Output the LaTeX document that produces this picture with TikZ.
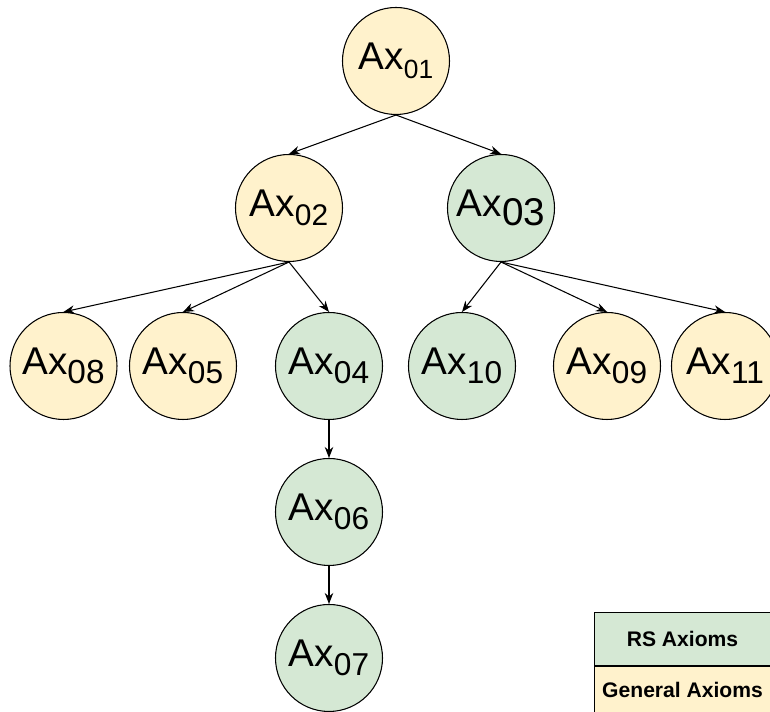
\documentclass[tikz,border=0pt]{standalone}
\usepackage{fontspec}
\setmainfont{Liberation Sans}
\usepackage{xcolor}
\usetikzlibrary{arrows.meta}

\definecolor{genfill}{HTML}{FFF2CC}
\definecolor{rsfill}{HTML}{D5E8D4}
\newcommand{\axfont}{\fontsize{22}{26}\selectfont}
\newcommand{\axsub}[2][18]{\raisebox{-5pt}{\fontsize{#1}{#1}\selectfont #2}}
\newcommand{\legfont}{\fontsize{12}{14}\selectfont\bfseries}

\begin{document}
\begin{tikzpicture}[x=1cm, y=1cm,
  ax/.style={circle, draw, line width=0.6pt, minimum size=2.14cm, inner sep=0pt, font=\axfont},
  gen/.style={ax, fill=genfill},
  rs/.style={ax, fill=rsfill},
  ar/.style={-{Stealth[length=2.2mm, width=1.7mm]}, line width=0.6pt},
  leg/.style={draw, line width=0.6pt, minimum width=3.52cm, inner sep=0pt, font=\legfont}
]
\useasboundingbox (0,0) rectangle (15.4,14.24);

% --- axiom tree -----------------------------------------------------------
\node[gen] (a01) at (7.92,13.02) {Ax\axsub[15]{01}};
\node[gen] (a02) at (5.78,10.08) {Ax\axsub[17]{02}};
\node[rs]  (a03) at (10.02,10.08) {Ax\axsub[22]{03}};
\node[gen] (a08) at (1.27,6.92)  {Ax\axsub[19]{08}};
\node[gen] (a05) at (3.66,6.92)  {Ax\axsub{05}};
\node[rs]  (a04) at (6.58,6.92)  {Ax\axsub{04}};
\node[rs]  (a10) at (9.24,6.92)  {Ax\axsub{10}};
\node[gen] (a09) at (12.14,6.92) {Ax\axsub{09}};
\node[gen] (a11) at (14.5,6.92)  {Ax\axsub{11}};
\node[rs]  (a06) at (6.58,4.0)   {Ax\axsub{06}};
\node[rs]  (a07) at (6.58,1.08)  {Ax\axsub{07}};

\draw[ar] (a01.south) -- (a02.north);
\draw[ar] (a01.south) -- (a03.north);
\draw[ar] (a02.south) -- (a08.north);
\draw[ar] (a02.south) -- (a05.north);
\draw[ar] (a02.south) -- (a04.north);
\draw[ar] (a03.south) -- (a10.north);
\draw[ar] (a03.south) -- (a09.north);
\draw[ar] (a03.south) -- (a11.north);
\draw[ar] (a04.south) -- (a06.north);
\draw[ar] (a06.south) -- (a07.north);

% --- legend -----------------------------------------------------------------
\node[leg, fill=rsfill,  minimum height=1.06cm, anchor=north west] (lrs)  at (11.88,2.0) {RS Axioms};
\node[leg, fill=genfill, minimum height=0.94cm, anchor=north west] (lgen) at (lrs.south west) {General Axioms};
\end{tikzpicture}
\end{document}
